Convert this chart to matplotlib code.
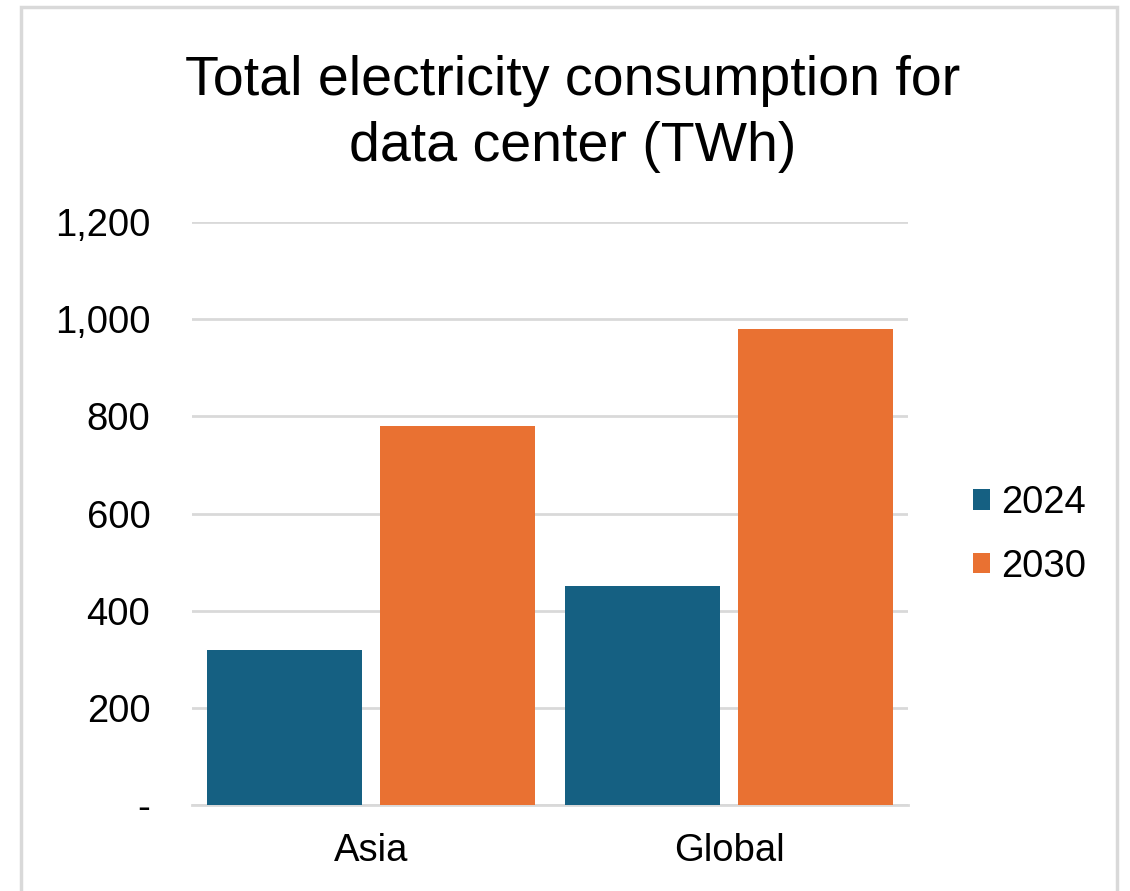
import numpy as np
import matplotlib.pyplot as plt
from matplotlib.patches import Rectangle

# data (TWh)
regions = ['Asia', 'Global']
years = ['2024', '2030']
vals_2024 = [320, 450]
vals_2030 = [780, 980]
yticks = [0, 200, 400, 600, 800, 1000, 1200]
ytick_labels = ['-', '200', '400', '600', '800', '1,000', '1,200']

blue = '#156082'
orange = '#E97132'
grid_col = '#D9D9D9'

plt.rcParams['font.family'] = ['Liberation Sans', 'DejaVu Sans']

fig = plt.figure(figsize=(11.3, 8.91), dpi=100)
fig.patch.set_facecolor('white')

# light outer frame around the chart (bottom edge runs off the image)
frame = Rectangle((21 / 1130, -0.05), (1117 - 21) / 1130, 1 - 7 / 891 + 0.05,
                  transform=fig.transFigure, fill=False, edgecolor=grid_col,
                  linewidth=2.5, zorder=0)
fig.patches.append(frame)

ax = fig.add_axes([192 / 1130, 1 - 805 / 891, (908 - 192) / 1130, (805 - 222) / 891])

x = np.arange(len(regions))
w = 0.433
gap = 0.0475
ax.bar(x - (w + gap) / 2, vals_2024, w, color=blue, label=years[0], zorder=3)
ax.bar(x + (w + gap) / 2, vals_2030, w, color=orange, label=years[1], zorder=3)

ax.set_xlim(-0.5, 1.5)
ax.set_ylim(0, 1200)
ax.set_yticks(yticks)
ax.set_yticklabels(ytick_labels)
ax.set_xticks(x)
ax.set_xticklabels(regions)
ax.tick_params(axis='both', length=0, labelsize=27.5, colors='black')
ax.tick_params(axis='y', pad=30)
ax.tick_params(axis='x', pad=20)

ax.yaxis.grid(True, color=grid_col, linewidth=2, zorder=0)
ax.set_axisbelow(True)
for side in ['top', 'right', 'left']:
    ax.spines[side].set_visible(False)
ax.spines['bottom'].set_color(grid_col)
ax.spines['bottom'].set_linewidth(2)

fig.text(573 / 1130, 1 - 114 / 891, 'Total electricity consumption for\ndata center (TWh)',
         ha='center', va='center', fontsize=40, linespacing=1.33)

leg = ax.legend(loc='center left', frameon=False, borderpad=0, borderaxespad=0,
                fontsize=27.5, handlelength=0.45, handleheight=0.45, handletextpad=0.28,
                labelspacing=0.72)
leg.set_bbox_to_anchor((973 / 1130, 1 - 535 / 891), transform=fig.transFigure)

fig.savefig('out.png', dpi=100, facecolor='white')
